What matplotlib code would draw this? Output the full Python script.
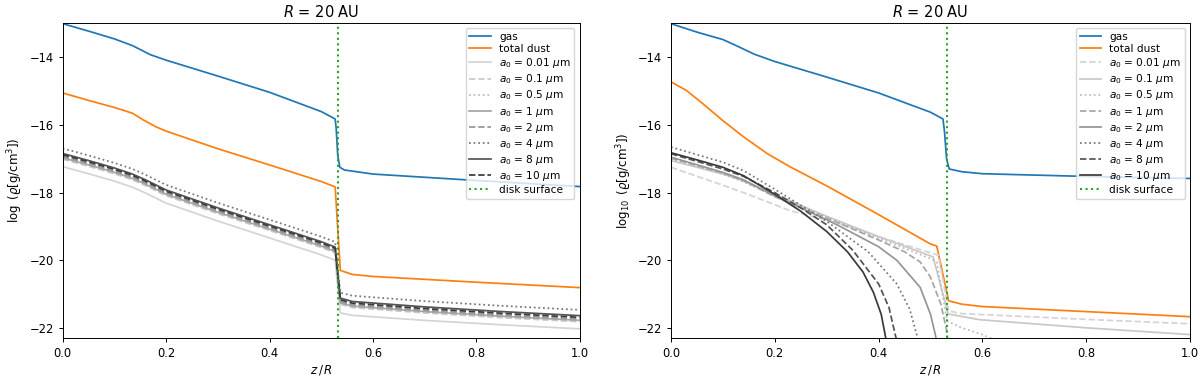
import matplotlib
matplotlib.use("Agg")
import matplotlib.pyplot as plt

# ---------------- data: left panel ----------------
zL_gas = [0, 0.05, 0.1, 0.135, 0.17, 0.2, 0.3, 0.4, 0.5, 0.527, 0.529, 0.532, 0.536, 0.545, 0.6, 0.8, 1.0]
L_gas = [-13.0, -13.22, -13.45, -13.65, -13.92, -14.08, -14.55, -15.03, -15.6, -15.82, -16.1, -16.9, -17.25, -17.33, -17.45, -17.64, -17.82]

zL_tot = [0, 0.05, 0.1, 0.135, 0.155, 0.18, 0.2, 0.3, 0.4, 0.5, 0.527, 0.537, 0.56, 0.6, 0.8, 1.0]
L_tot = [-15.05, -15.27, -15.48, -15.65, -15.84, -16.05, -16.18, -16.7, -17.18, -17.67, -17.83, -20.3, -20.42, -20.48, -20.65, -20.81]

zL_dust = [0, 0.05, 0.1, 0.135, 0.16, 0.2, 0.3, 0.4, 0.5, 0.527, 0.537, 0.56, 0.7, 0.85, 1.0]
L_a001 = [-17.23, -17.44, -17.66, -17.84, -18.01, -18.31, -18.84, -19.34, -19.84, -20.00, -21.56, -21.63, -21.78, -21.91, -22.03]
L_a01 = [-17.01, -17.22, -17.44, -17.62, -17.79, -18.09, -18.62, -19.12, -19.62, -19.78, -21.30, -21.40, -21.56, -21.70, -21.82]
L_a05 = [-16.95, -17.16, -17.38, -17.56, -17.73, -18.03, -18.56, -19.06, -19.56, -19.72, -21.24, -21.34, -21.50, -21.64, -21.76]
L_a1 = [-16.97, -17.18, -17.40, -17.58, -17.75, -18.05, -18.58, -19.08, -19.58, -19.74, -21.26, -21.36, -21.52, -21.66, -21.78]
L_a2 = [-16.93, -17.14, -17.36, -17.54, -17.71, -18.01, -18.54, -19.04, -19.54, -19.70, -21.22, -21.32, -21.48, -21.62, -21.74]
L_a4 = [-16.69, -16.90, -17.12, -17.30, -17.47, -17.77, -18.30, -18.80, -19.30, -19.46, -20.96, -21.05, -21.21, -21.35, -21.47]
L_a8 = [-16.84, -17.05, -17.27, -17.45, -17.62, -17.92, -18.45, -18.95, -19.45, -19.61, -21.12, -21.22, -21.38, -21.52, -21.64]
L_a10 = [-16.88, -17.09, -17.31, -17.49, -17.66, -17.96, -18.49, -18.99, -19.49, -19.65, -21.17, -21.27, -21.43, -21.57, -21.69]

# ---------------- data: right panel ----------------
zR_gas = [0, 0.05, 0.1, 0.13, 0.16, 0.2, 0.3, 0.4, 0.5, 0.524, 0.527, 0.531, 0.536, 0.56, 0.6, 0.8, 1.0]
R_gas = [-13.0, -13.25, -13.47, -13.68, -13.9, -14.12, -14.58, -15.05, -15.62, -15.82, -16.2, -17.0, -17.3, -17.38, -17.44, -17.52, -17.58]

zR_tot = [0, 0.03, 0.06, 0.1, 0.14, 0.185, 0.23, 0.3, 0.4, 0.5, 0.512, 0.535, 0.56, 0.6, 0.8, 1.0]
R_tot = [-14.72, -14.98, -15.35, -15.87, -16.35, -16.84, -17.24, -17.8, -18.65, -19.52, -19.58, -21.2, -21.3, -21.37, -21.52, -21.67]

zR_a001 = [0, 0.1, 0.14, 0.229, 0.326, 0.4, 0.5, 0.515, 0.535, 0.56, 0.8, 1.0]
R_a001 = [-17.25, -17.78, -18.0, -18.53, -18.92, -19.3, -19.78, -19.85, -21.5, -21.58, -21.75, -21.88]
zR_a01 = [0, 0.1, 0.13, 0.2, 0.3, 0.4, 0.505, 0.534, 0.595, 0.8, 1.0]
R_a01 = [-17.05, -17.45, -17.6, -18.05, -18.7, -19.3, -19.9, -21.59, -21.76, -22.0, -22.2]
zR_a05 = [0, 0.1, 0.14, 0.2, 0.3, 0.4, 0.5, 0.512, 0.532, 0.56, 0.6, 0.63]
R_a05 = [-17.0, -17.45, -17.68, -18.1, -18.72, -19.35, -19.95, -20.05, -21.8, -22.0, -22.2, -22.4]
zR_a1 = [0, 0.1, 0.14, 0.2, 0.3, 0.4, 0.45, 0.48, 0.5, 0.52, 0.53, 0.535]
R_a1 = [-16.98, -17.42, -17.65, -18.12, -18.75, -19.4, -19.75, -20.05, -20.5, -21.3, -22.0, -22.5]
zR_a2 = [0, 0.1, 0.14, 0.2, 0.3, 0.326, 0.4, 0.435, 0.48, 0.5, 0.509, 0.513]
R_a2 = [-16.95, -17.4, -17.62, -18.1, -18.8, -19.0, -19.6, -20.0, -20.8, -21.6, -22.18, -22.5]
zR_a4 = [0, 0.1, 0.14, 0.2, 0.3, 0.38, 0.435, 0.46, 0.473, 0.478]
R_a4 = [-16.65, -17.1, -17.35, -17.9, -18.85, -19.75, -20.7, -21.45, -22.18, -22.5]
zR_a8 = [0, 0.1, 0.14, 0.2, 0.25, 0.3, 0.35, 0.4, 0.42, 0.432, 0.437]
R_a8 = [-16.85, -17.3, -17.52, -18.0, -18.45, -18.95, -19.7, -20.7, -21.4, -22.2, -22.5]
zR_a10 = [0, 0.05, 0.1, 0.14, 0.2, 0.25, 0.3, 0.34, 0.37, 0.39, 0.405, 0.415]
R_a10 = [-16.82, -17.03, -17.25, -17.5, -18.05, -18.55, -19.15, -19.75, -20.35, -20.95, -21.6, -22.4]

z_surface = 0.532
size_labels = ["0.01", "0.1", "0.5", "1", "2", "4", "8", "10"]

# ---------------- styling ----------------
gray_colors = ["#d4d4d4", "#c8c8c8", "#bababa", "#a6a6a6", "#969696", "#747474", "#545454", "#3a3a3a"]
left_styles = ["-", "--", ":", "-", "--", ":", "-", "--"]
right_styles = ["--", "-", ":", "--", "-", ":", "--", "-"]
lw = 1.25

plt.rcParams['font.family'] = ['DejaVu Sans']
fig = plt.figure(figsize=(12, 3.8), dpi=100)
axL = fig.add_axes([62.7 / 1200, 1 - 338.3 / 380, 517 / 1200, (338.3 - 23) / 380])
axR = fig.add_axes([671 / 1200, 1 - 338.3 / 380, 519 / 1200, (338.3 - 23) / 380])

left_dust = [(zL_dust, L_a001), (zL_dust, L_a01), (zL_dust, L_a05), (zL_dust, L_a1),
             (zL_dust, L_a2), (zL_dust, L_a4), (zL_dust, L_a8), (zL_dust, L_a10)]
right_dust = [(zR_a001, R_a001), (zR_a01, R_a01), (zR_a05, R_a05), (zR_a1, R_a1),
              (zR_a2, R_a2), (zR_a4, R_a4), (zR_a8, R_a8), (zR_a10, R_a10)]

panels = [
    (axL, zL_gas, L_gas, zL_tot, L_tot, left_dust, left_styles,
     r"$\log\ (\varrho[\mathrm{g/cm^3}])$"),
    (axR, zR_gas, R_gas, zR_tot, R_tot, right_dust, right_styles,
     r"$\log_{10}\ (\varrho[\mathrm{g/cm^3}])$"),
]

for ax, zg, g, zt, t, dust, styles, ylab in panels:
    ax.plot(zg, g, color="#1f77b4", lw=lw, label="gas")
    ax.plot(zt, t, color="#ff7f0e", lw=lw, label="total dust")
    for (zd, d), c, ls, s in zip(dust, gray_colors, styles, size_labels):
        ax.plot(zd, d, color=c, ls=ls, lw=lw, label=r"$a_0$ = " + s + r" $\mu$m")
    ax.axvline(z_surface, color="#2ca02c", ls=":", lw=1.5, label="disk surface")
    ax.set_xlim(0, 1)
    ax.set_ylim(-22.31, -12.98)
    ax.set_xticks([0, 0.2, 0.4, 0.6, 0.8, 1.0])
    ax.set_yticks([-22, -20, -18, -16, -14])
    ax.tick_params(labelsize=8.3, length=2.9, width=0.7)
    for sp in ax.spines.values():
        sp.set_linewidth(0.7)
    ax.set_xlabel(r"$z\,/\,R$", fontsize=8.5, labelpad=2)
    ax.set_ylabel(ylab, fontsize=8.5, labelpad=3)
    ax.set_title(r"$R$ = 20 AU", fontsize=10.5, pad=4)
    ax.legend(loc="upper right", fontsize=7.6, labelspacing=0.2, borderpad=0.35,
              handlelength=2.0, framealpha=0.8)

fig.savefig("out.png", dpi=100)
